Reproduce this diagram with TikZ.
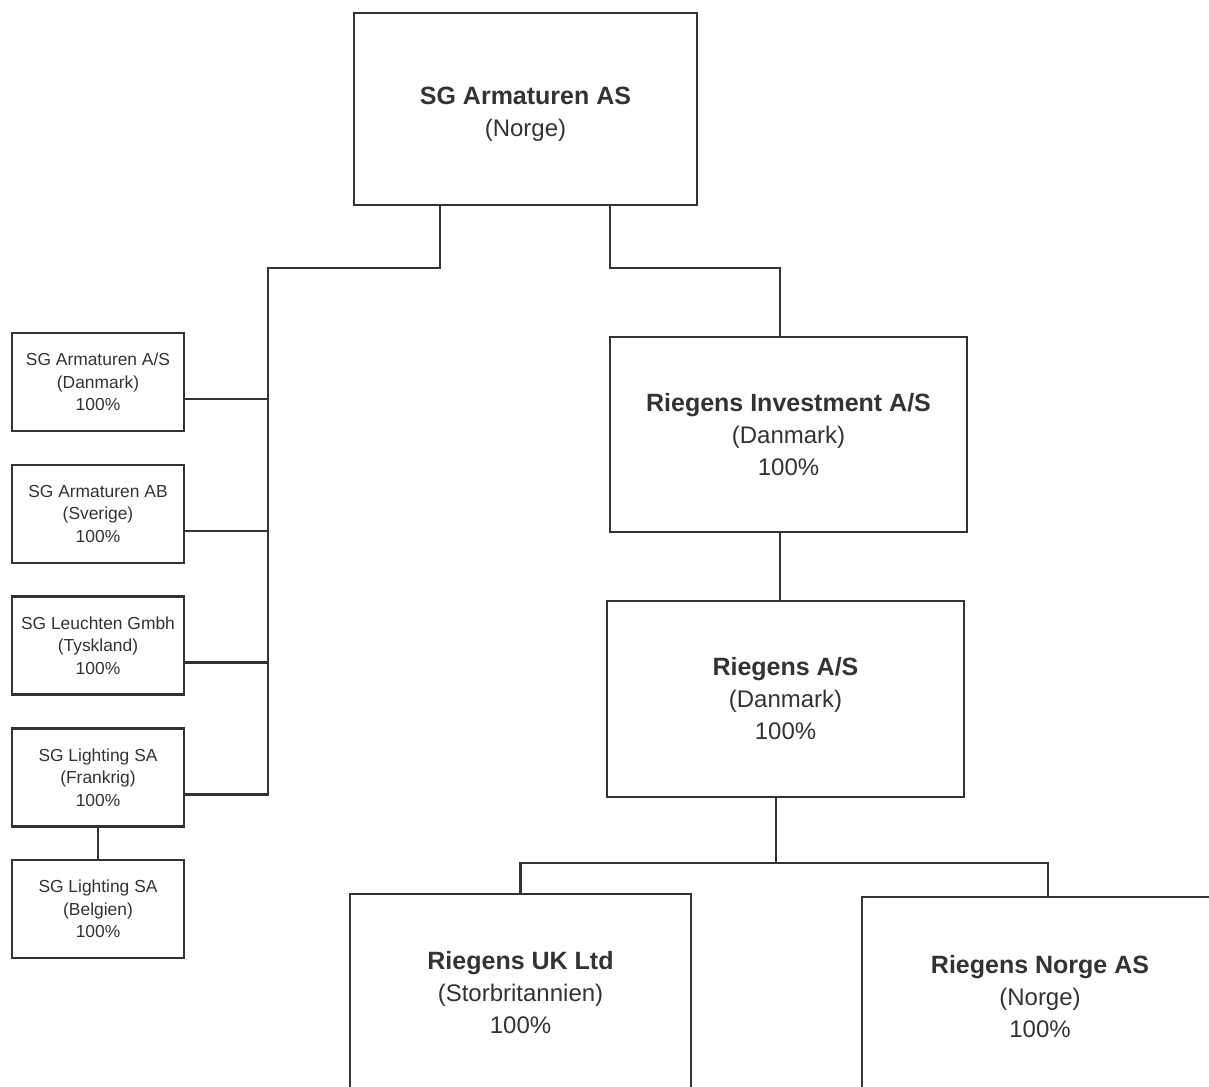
\documentclass[tikz,border=0pt]{standalone}
\usepackage{fontspec}
\setmainfont{Liberation Sans}
\usepackage{xcolor}
\usepackage{tikz}
\usetikzlibrary{positioning}

\definecolor{ink}{HTML}{333333}
\newcommand{\hd}[1]{{\fontsize{12.5}{16}\selectfont\bfseries #1}}

\tikzset{
  bigbox/.style={draw=ink,text=ink,line width=1.4pt,align=center,inner sep=0pt,
    font=\fontsize{12}{16}\selectfont},
  smallbox/.style={draw=ink,text=ink,line width=1.4pt,align=center,inner sep=0pt,
    minimum width=86pt,minimum height=49pt,font=\fontsize{8.7}{11.3}\selectfont},
  link/.style={draw=ink,line width=1.4pt}
}

\begin{document}
\begin{tikzpicture}[x=0.5pt,y=-0.5pt]
			
			\path[use as bounding box,clip] (0,0) rectangle (1209,1086);
			
			% moderselskab
			\node[bigbox,minimum width=171.5pt,minimum height=96pt,text height=30pt] (top) at (525.5,109)
				{\hd{SG Armaturen AS}\\(Norge)};
			
			% venstre gren
			\node[smallbox] (dk) at (98,382) {SG Armaturen A/S\\(Danmark)\\100\%};
			\node[smallbox] (se) at (98,514) {SG Armaturen AB\\(Sverige)\\100\%};
			\node[smallbox] (de) at (98,645.5) {SG Leuchten Gmbh\\(Tyskland)\\100\%};
			\node[smallbox] (fr) at (98,777.5) {SG Lighting SA\\(Frankrig)\\100\%};
			\node[smallbox] (be) at (98,909) {SG Lighting SA\\(Belgien)\\100\%};
			
			\coordinate (trunk) at (268,268);
			\draw[link] ([xshift=-42.75pt]top.south) |- (trunk) |- ([yshift=-8.5pt]fr.east);
			\draw[link] ([yshift=-8.5pt]dk.east) -| (trunk);
			\draw[link] ([yshift=-8.5pt]se.east) -| (trunk);
			\draw[link] ([yshift=-8.5pt]de.east) -| (trunk);
			\draw[link] (fr.south) -- (be.north);
			
			% hoejre gren
			\node[bigbox,minimum width=178.5pt,minimum height=97.5pt] (inv) at (788.5,434.5)
				{\hd{Riegens Investment A/S}\\(Danmark)\\100\%};
			\node[bigbox,minimum width=178.5pt,minimum height=98pt] (ras) at (785.5,699)
				{\hd{Riegens A/S}\\(Danmark)\\100\%};
			\node[bigbox,minimum width=170.5pt,minimum height=99pt] (uk) at (520.5,993)
				{\hd{Riegens UK Ltd}\\(Storbritannien)\\100\%};
			\node[bigbox,minimum width=178pt,minimum height=100pt] (no) at (1040,997)
				{\hd{Riegens Norge AS}\\(Norge)\\100\%};
			
			\coordinate (rbend) at (780,268);
			\coordinate (split) at (776,863);
			\draw[link] ([xshift=42.25pt]top.south) |- (rbend) -- ([xshift=-4.25pt]inv.north);
			\draw[link] ([xshift=-4.25pt]inv.south) -- ([xshift=-2.75pt]ras.north);
			\draw[link] ([xshift=-4.75pt]ras.south) -- (split);
			\draw[link] (uk.north) |- (split) -| ([xshift=4pt]no.north);
			
		\end{tikzpicture}
\end{document}
